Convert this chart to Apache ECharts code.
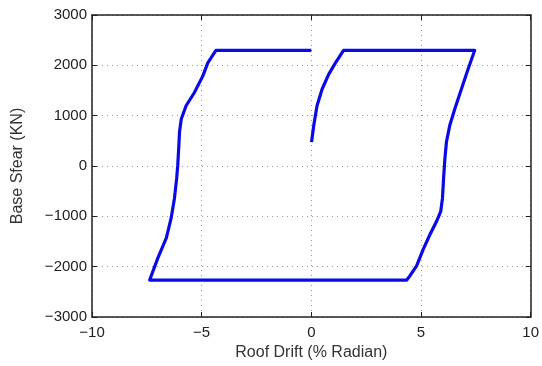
<!DOCTYPE html>
<html><head><meta charset="utf-8">
<script src="https://cdn.jsdelivr.net/npm/echarts@6/dist/echarts.min.js"></script>
<style>html,body{margin:0;padding:0;background:#fff}#c{width:542px;height:366px}</style>
</head><body><div id="c"></div>
<script>
// Roof drift (% radian) and base shear (KN)
const drift = [0.01, 0.11, 0.26, 0.49, 0.79, 1.10, 1.47, 7.45, 7.14, 6.84, 6.54, 6.31, 6.16, 6.09, 6.03, 5.98, 5.90, 5.71, 5.41, 5.10, 4.80, 4.50, 4.35, -7.37, -6.99, -6.61, -6.39, -6.24, -6.14, -6.09, -6.04, -6.01, -5.93, -5.71, -5.33, -4.95, -4.72, -4.35, 0.0];
const shear = [475, 803, 1197, 1525, 1820, 2049, 2298, 2298, 1918, 1525, 1131, 803, 476, 148, -246, -639, -902, -1098, -1361, -1656, -1983, -2180, -2266, -2266, -1820, -1426, -1033, -639, -246, 16, 409, 673, 935, 1197, 1460, 1786, 2050, 2298, 2298];
const xTicks = [-10, -5, 0, 5, 10];
const yTicks = [-3000, -2000, -1000, 0, 1000, 2000, 3000];

const font = 'Liberation Sans, Arial, sans-serif';
const fmt = v => String(v).replace('-', '\u2212');
const baseAxis = {
  axisLine: {show: true, onZero: false, lineStyle: {color: '#222', width: 1.5}},
  axisTick: {show: true, inside: true, length: 5, lineStyle: {color: '#222', width: 1}},
  splitLine: {show: false},
  nameTextStyle: {color: '#333', fontFamily: font, fontSize: 16}
};
const chart = echarts.init(document.getElementById('c'), null, {renderer: 'canvas'});
chart.setOption({
  animation: false,
  backgroundColor: '#fff',
  grid: {left: 92, right: 9, top: 15, bottom: 46, containLabel: false},
  xAxis: [
    Object.assign({}, baseAxis, {
      type: 'value', position: 'bottom', min: xTicks[0], max: xTicks[xTicks.length - 1], interval: 5,
      name: 'Roof Drift (% Radian)', nameLocation: 'middle', nameGap: 28,
      axisLabel: {color: '#222', fontFamily: font, fontSize: 15, margin: 8, formatter: fmt},
      splitLine: {show: true, lineStyle: {type: [1, 4], color: '#999', width: 1}}
    }),
    Object.assign({}, baseAxis, {
      type: 'value', position: 'top', min: xTicks[0], max: xTicks[xTicks.length - 1], interval: 5,
      axisLabel: {show: false}
    })
  ],
  yAxis: [
    Object.assign({}, baseAxis, {
      type: 'value', position: 'left', min: yTicks[0], max: yTicks[yTicks.length - 1], interval: 1000,
      name: 'Base Sfear (KN)', nameLocation: 'middle', nameGap: 66,
      axisLabel: {color: '#222', fontFamily: font, fontSize: 15, margin: 5, formatter: fmt},
      splitLine: {show: true, lineStyle: {type: [1, 4], color: '#999', width: 1}}
    }),
    Object.assign({}, baseAxis, {
      type: 'value', position: 'right', min: yTicks[0], max: yTicks[yTicks.length - 1], interval: 1000,
      axisLabel: {show: false}
    })
  ],
  series: [{
    type: 'line',
    data: drift.map((d, i) => [d, shear[i]]),
    showSymbol: false,
    symbol: 'none',
    smooth: false,
    lineStyle: {color: '#0a0ae6', width: 3.2, join: 'round'}
  }]
});
</script></body></html>
